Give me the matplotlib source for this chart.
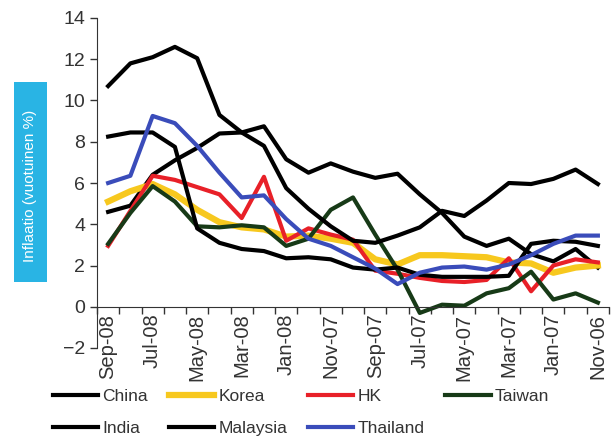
import matplotlib
matplotlib.use('Agg')
import matplotlib.pyplot as plt
from matplotlib.patches import Rectangle
import numpy as np

plt.rcParams['font.family'] = ['Liberation Sans', 'DejaVu Sans']

# months, newest first (as in the source chart)
months = ['Sep-08', 'Aug-08', 'Jul-08', 'Jun-08', 'May-08', 'Apr-08', 'Mar-08', 'Feb-08',
          'Jan-08', 'Dec-07', 'Nov-07', 'Oct-07', 'Sep-07', 'Aug-07', 'Jul-07', 'Jun-07',
          'May-07', 'Apr-07', 'Mar-07', 'Feb-07', 'Jan-07', 'Dec-06', 'Nov-06']

# inflation values (%)
china = [4.6, 4.9, 6.4, 7.1, 7.7, 8.4, 8.45, 8.75, 7.15, 6.5, 6.95, 6.55, 6.25, 6.45,
         5.45, 4.55, 3.4, 2.95, 3.3, 2.55, 2.2, 2.8, 1.9]
korea = [5.1, 5.6, 5.95, 5.45, 4.7, 4.1, 3.85, 3.75, 3.4, 3.45, 3.3, 3.1, 2.3, 2.05,
         2.5, 2.5, 2.45, 2.4, 2.15, 2.1, 1.65, 1.9, 2.0]
hk = [2.95, 4.65, 6.35, 6.15, 5.8, 5.45, 4.3, 6.3, 3.2, 3.8, 3.5, 3.25, 1.75, 1.6,
      1.4, 1.25, 1.2, 1.3, 2.35, 0.75, 2.0, 2.3, 2.15]
taiwan = [3.05, 4.55, 5.85, 5.1, 3.9, 3.85, 3.95, 3.85, 2.95, 3.3, 4.7, 5.3, 3.5, 1.8,
          -0.3, 0.1, 0.05, 0.65, 0.9, 1.7, 0.35, 0.65, 0.2]
india = [10.7, 11.8, 12.1, 12.6, 12.05, 9.3, 8.45, 7.8, 5.75, 4.75, 3.9, 3.2, 3.1, 3.45,
         3.85, 4.65, 4.4, 5.15, 6.0, 5.95, 6.2, 6.65, 5.95]
malaysia = [8.25, 8.45, 8.45, 7.75, 3.8, 3.1, 2.8, 2.7, 2.35, 2.4, 2.3, 1.9, 1.8, 1.9,
            1.55, 1.45, 1.45, 1.45, 1.5, 3.05, 3.2, 3.15, 2.95]
thailand = [6.0, 6.35, 9.25, 8.9, 7.8, 6.5, 5.3, 5.4, 4.25, 3.3, 2.95, 2.4, 1.85, 1.1,
            1.65, 1.9, 1.95, 1.8, 2.05, 2.5, 3.05, 3.45, 3.45]

x = np.arange(len(months))

fig = plt.figure(figsize=(6.15, 4.36), dpi=100)
ax = fig.add_axes([97 / 615, 88 / 436, 512 / 615, 330 / 436])

series = [
    ('China', china, '#000000', 3.0),
    ('Korea', korea, '#f7c81e', 4.5),
    ('HK', hk, '#e82028', 3.0),
    ('Taiwan', taiwan, '#173a17', 3.0),
    ('India', india, '#000000', 3.0),
    ('Malaysia', malaysia, '#000000', 3.0),
    ('Thailand', thailand, '#3a4cba', 3.0),
]
for name, vals, col, lw in series:
    ax.plot(x, vals, color=col, lw=lw, label=name, solid_joinstyle='round')

ax.set_xlim(-0.5, len(months) - 0.5)
ax.set_ylim(-2, 14)
ax.set_yticks(range(-2, 15, 2))
ax.tick_params(axis='y', labelsize=14, colors='#333333', length=5, width=1, direction='out')

# category axis crosses at zero, ticks between categories
ax.spines['bottom'].set_position(('data', 0))
ax.spines['top'].set_visible(False)
ax.spines['right'].set_visible(False)
ax.spines['left'].set_color('#333333')
ax.spines['bottom'].set_color('#333333')
ax.set_xticks(x[::2])
ax.set_xticklabels(months[::2], rotation=90)
ax.set_xticks(np.arange(-0.5, len(months), 1), minor=True)
ax.tick_params(axis='x', which='major', length=0, labelsize=14.5, colors='#333333', pad=5)
ax.tick_params(axis='x', which='minor', length=5, width=1, direction='out', color='#333333')

# y label in a cyan box
fig.patches.append(Rectangle((14 / 615, 154 / 436), 33 / 615, 200 / 436,
                             transform=fig.transFigure, facecolor='#29b4e4',
                             edgecolor='none'))
fig.text(30.5 / 615, 1 - 186 / 436, 'Inflaatio (vuotuinen %)', rotation=90,
         color='white', fontsize=11, ha='center', va='center')

# legend filled column by column, so order it to read row by row
handles, labels = ax.get_legend_handles_labels()
order = [0, 4, 1, 5, 2, 6, 3]
fig.legend([handles[i] for i in order], [labels[i] for i in order], ncol=4,
           loc='upper left', bbox_to_anchor=(53 / 615, 1 - 389 / 436),
           frameon=False, fontsize=12.5, handlelength=2.6, handletextpad=0.25,
           columnspacing=1.2, labelspacing=0.95, borderaxespad=0, borderpad=0,
           labelcolor='#333333')

plt.savefig('out.png', dpi=100)
